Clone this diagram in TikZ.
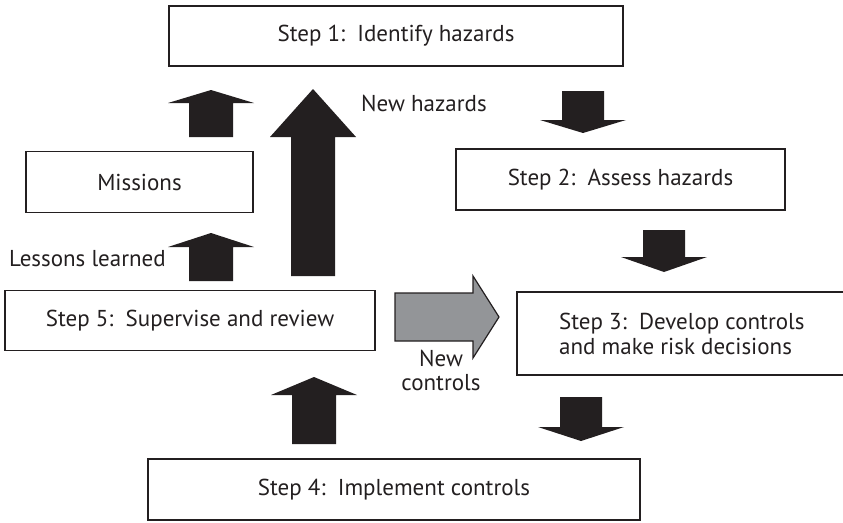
\documentclass[tikz,border=0pt]{standalone}
\usepackage{fontspec}
\setmainfont{PT Sans}
\definecolor{ink}{HTML}{231F20}
\definecolor{midgray}{HTML}{939598}
\newcommand\blkup[4]{% cx, tip y, head base y, bottom y
  \fill[ink] (#1-22,#4) -- (#1-22,#3) -- (#1-43,#3) -- (#1,#2) -- (#1+43,#3) -- (#1+22,#3) -- (#1+22,#4) -- cycle;}
\newcommand\blkdown[4]{% cx, top y, head base y, tip y
  \fill[ink] (#1-21,#2) -- (#1-21,#3) -- (#1-43,#3) -- (#1,#4) -- (#1+43,#3) -- (#1+21,#3) -- (#1+21,#2) -- cycle;}
\begin{document}
\begin{tikzpicture}[x=1pt,y=-1pt,
  box/.style={draw=ink,line width=1.6pt,inner sep=0pt,font=\fontsize{23}{25}\selectfont,text=ink},
  lbl/.style={font=\fontsize{23}{25}\selectfont,text=ink,inner sep=0pt}]
\useasboundingbox (0,0) rectangle (843,522);
\node[box,minimum width=454pt,minimum height=60pt] (s1) at (396,36) {Step 1:\ \ Identify hazards};
\node[box,minimum width=227pt,minimum height=61pt] (mi) at (139.5,182) {Missions};
\node[box,minimum width=329pt,minimum height=61pt] (s2) at (620.5,179.5) {Step 2:\ \ Assess hazards};
\node[box,minimum width=370pt,minimum height=60pt] (s5) at (190,320.5) {Step 5:\ \ Supervise and review};
\node[box,minimum width=330pt,minimum height=83pt] (s3) at (682,333.5) {};
\node[lbl,anchor=west,align=left] (s3t) at (559,334) {Step 3:\ \ Develop controls\\and make risk decisions};
\node[box,minimum width=492pt,minimum height=61pt] (s4) at (394,489.5) {Step 4:\ \ Implement controls};
% arrows
\blkup{211}{90}{103}{137}
\blkup{313}{89}{137}{276}
\blkup{211}{233}{247}{281}
\blkup{314}{377}{395}{444}
\blkdown{583}{91}{120}{133}
\blkdown{664}{230}{257}{272}
\blkdown{581}{397}{427}{441}
\filldraw[fill=midgray,draw=ink,line width=1.2pt,line join=miter]
  (395,293) -- (473,293) -- (473,276) -- (499,317) -- (473,358) -- (473,341) -- (395,341) -- cycle;
% labels
\node[lbl,anchor=west] (nh) at (361,103) {New hazards};
\node[lbl,anchor=west] (ll) at (9,259) {Lessons learned};
\node[lbl] (nw) at (441,358) {New};
\node[lbl] (nc) at (441,383) {controls};
\end{tikzpicture}
\end{document}
